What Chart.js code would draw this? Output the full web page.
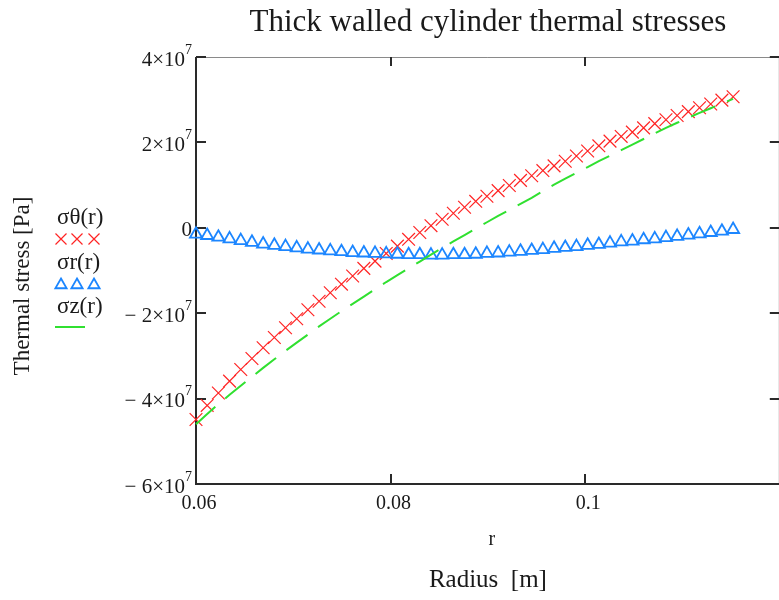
<!DOCTYPE html>
<html>
<head>
<meta charset="utf-8">
<title>Thick walled cylinder thermal stresses</title>
<script src="https://cdn.jsdelivr.net/npm/chart.js@4.4.0/dist/chart.umd.min.js"></script>
<style>
  html, body { margin: 0; padding: 0; background: #fff; overflow: hidden; }
  #wrap { position: relative; width: 790px; height: 600px; }
</style>
</head>
<body>
<div id="wrap"><canvas id="stress" width="790" height="600"></canvas></div>
<script>
// radius r [m]
var radius = [
  0.06000, 0.06115, 0.06230, 0.06345, 0.06460, 0.06575, 0.06690, 0.06805, 0.06920, 0.07035,
  0.07150, 0.07265, 0.07380, 0.07495, 0.07610, 0.07725, 0.07840, 0.07955, 0.08070, 0.08185,
  0.08300, 0.08415, 0.08530, 0.08645, 0.08760, 0.08875, 0.08990, 0.09105, 0.09220, 0.09335,
  0.09450, 0.09565, 0.09680, 0.09795, 0.09910, 0.10025, 0.10140, 0.10255, 0.10370, 0.10485,
  0.10600, 0.10715, 0.10830, 0.10945, 0.11060, 0.11175, 0.11290, 0.11405, 0.11520
];

// hoop stress [Pa]
var sigmaTheta = [
  -4.49e7, -4.16e7, -3.87e7, -3.59e7, -3.32e7, -3.06e7, -2.81e7, -2.57e7, -2.34e7, -2.13e7,
  -1.92e7, -1.72e7, -1.52e7, -1.32e7, -1.13e7, -0.95e7, -0.78e7, -0.60e7, -0.43e7, -0.27e7,
  -0.11e7, 0.05e7, 0.20e7, 0.34e7, 0.48e7, 0.62e7, 0.74e7, 0.87e7, 0.99e7, 1.11e7,
  1.22e7, 1.34e7, 1.45e7, 1.56e7, 1.68e7, 1.80e7, 1.92e7, 2.03e7, 2.14e7, 2.24e7,
  2.34e7, 2.44e7, 2.53e7, 2.63e7, 2.72e7, 2.81e7, 2.90e7, 2.99e7, 3.07e7
];

// radial stress [Pa]
var sigmaR = [
  -0.15e7, -0.18e7, -0.22e7, -0.26e7, -0.30e7, -0.34e7, -0.38e7, -0.41e7, -0.44e7, -0.47e7,
  -0.50e7, -0.52e7, -0.54e7, -0.56e7, -0.58e7, -0.59e7, -0.60e7, -0.61e7, -0.62e7, -0.63e7,
  -0.63e7, -0.64e7, -0.64e7, -0.63e7, -0.63e7, -0.62e7, -0.60e7, -0.59e7, -0.57e7, -0.55e7,
  -0.53e7, -0.51e7, -0.48e7, -0.46e7, -0.44e7, -0.41e7, -0.39e7, -0.36e7, -0.33e7, -0.31e7,
  -0.28e7, -0.26e7, -0.23e7, -0.20e7, -0.17e7, -0.14e7, -0.11e7, -0.08e7, -0.04e7
];

// axial stress [Pa]
var sigmaZ = [
  -4.60e7, -4.36e7, -4.13e7, -3.91e7, -3.70e7, -3.49e7, -3.28e7, -3.08e7, -2.88e7, -2.69e7,
  -2.50e7, -2.31e7, -2.13e7, -1.95e7, -1.78e7, -1.61e7, -1.44e7, -1.27e7, -1.11e7, -0.95e7,
  -0.79e7, -0.63e7, -0.47e7, -0.32e7, -0.17e7, -0.02e7, 0.13e7, 0.28e7, 0.42e7, 0.56e7,
  0.70e7, 0.86e7, 1.01e7, 1.15e7, 1.29e7, 1.42e7, 1.56e7, 1.69e7, 1.82e7, 1.95e7,
  2.08e7, 2.21e7, 2.34e7, 2.46e7, 2.58e7, 2.69e7, 2.80e7, 2.91e7, 3.02e7
];

var xTicks = [0.06, 0.08, 0.1];
var xTickLabels = ['0.06', '0.08', '0.1'];
var yTicks = [4e7, 2e7, 0, -2e7, -4e7, -6e7];
var yTickLabels = ['4\u00d710^7', '2\u00d710^7', '0', '\u2212 2\u00d710^7', '\u2212 4\u00d710^7', '\u2212 6\u00d710^7'];

var legendNames = ['\u03c3\u03b8(r)', '\u03c3r(r)', '\u03c3z(r)'];

var RED = '#ff2424';
var BLUE = '#1c86ff';
var GREEN = '#30e030';
var INK = '#1a1a1a';
var serif = '"Liberation Serif", "Times New Roman", serif';

function pts(ys) {
  return radius.map(function (r, i) { return { x: r, y: ys[i] }; });
}

function drawCross(ctx, x, y, h) {
  ctx.beginPath();
  ctx.moveTo(x - h, y - h); ctx.lineTo(x + h, y + h);
  ctx.moveTo(x - h, y + h); ctx.lineTo(x + h, y - h);
  ctx.stroke();
}

function drawTri(ctx, x, y, r) {
  ctx.beginPath();
  ctx.moveTo(x, y - r);
  ctx.lineTo(x + r * 0.866, y + r / 2);
  ctx.lineTo(x - r * 0.866, y + r / 2);
  ctx.closePath();
  ctx.stroke();
}

// box, inward ticks, tick labels, axis texts and the side legend
var decor = {
  id: 'decor',
  beforeDatasetsDraw: function (chart) {
    var ctx = chart.ctx;
    var a = chart.chartArea;
    var xs = chart.scales.x, ys = chart.scales.y;
    ctx.save();

    // frame
    ctx.lineWidth = 1;
    ctx.strokeStyle = '#8a8a8a';
    ctx.beginPath();
    ctx.moveTo(a.left, a.top + 0.5); ctx.lineTo(a.right, a.top + 0.5);
    ctx.moveTo(a.right - 0.5, a.top); ctx.lineTo(a.right - 0.5, a.bottom);
    ctx.stroke();
    ctx.lineWidth = 2;
    ctx.strokeStyle = '#2a2a2a';
    ctx.beginPath();
    ctx.moveTo(a.left, a.top); ctx.lineTo(a.left, a.bottom);
    ctx.lineTo(a.right, a.bottom);
    ctx.stroke();

    // inward ticks
    ctx.lineWidth = 2;
    ctx.beginPath();
    yTicks.forEach(function (v) {
      var y = Math.round(ys.getPixelForValue(v));
      ctx.moveTo(a.left, y); ctx.lineTo(a.left + 10, y);
      ctx.moveTo(a.right, y); ctx.lineTo(a.right - 10, y);
    });
    xTicks.forEach(function (v) {
      var x = Math.round(xs.getPixelForValue(v));
      ctx.moveTo(x, a.bottom); ctx.lineTo(x, a.bottom - 10);
      ctx.moveTo(x, a.top); ctx.lineTo(x, a.top + 9);
    });
    ctx.stroke();

    ctx.fillStyle = INK;

    // y tick labels with superscript exponent
    ctx.textBaseline = 'middle';
    ctx.textAlign = 'left';
    yTicks.forEach(function (v, i) {
      var y = ys.getPixelForValue(v);
      var parts = yTickLabels[i].split('^');
      ctx.font = '14px ' + serif;
      var supW = parts[1] ? ctx.measureText(parts[1]).width : 0;
      ctx.font = '21px ' + serif;
      var baseW = ctx.measureText(parts[0]).width;
      var right = a.left - 4;
      ctx.fillText(parts[0], right - supW - baseW, y + 3);
      if (parts[1]) {
        ctx.font = '14px ' + serif;
        ctx.fillText(parts[1], right - supW, y - 7);
      }
    });

    // x tick labels
    ctx.font = '20px ' + serif;
    ctx.textAlign = 'center';
    xTicks.forEach(function (v, i) {
      ctx.fillText(xTickLabels[i], xs.getPixelForValue(v) + 3, a.bottom + 20);
    });

    var cx = (a.left + a.right) / 2;
    ctx.font = '31px ' + serif;
    ctx.fillText('Thick walled cylinder thermal stresses', cx, 23);
    ctx.font = '20px ' + serif;
    ctx.fillText('r', cx + 4, 540);
    ctx.font = '25px ' + serif;
    ctx.fillText('Radius  [m]', cx, 580);

    ctx.save();
    ctx.translate(23, 286);
    ctx.rotate(-Math.PI / 2);
    ctx.font = '23px ' + serif;
    ctx.fillText('Thermal stress [Pa]', 0, 0);
    ctx.restore();

    // side legend
    ctx.textAlign = 'left';
    ctx.font = '23px ' + serif;
    ctx.fillText(legendNames[0], 57, 218);
    ctx.fillText(legendNames[1], 57, 263);
    ctx.fillText(legendNames[2], 57, 307);

    ctx.lineWidth = 1.2;
    ctx.strokeStyle = RED;
    [61, 77, 94].forEach(function (x) { drawCross(ctx, x, 239, 5.5); });
    ctx.lineWidth = 1.8;
    ctx.strokeStyle = BLUE;
    [61, 77, 94].forEach(function (x) { drawTri(ctx, x, 285, 6.5); });
    ctx.lineWidth = 2;
    ctx.strokeStyle = GREEN;
    ctx.beginPath();
    ctx.moveTo(55, 327); ctx.lineTo(85, 327);
    ctx.stroke();

    ctx.restore();
  }
};

new Chart(document.getElementById('stress'), {
  type: 'scatter',
  data: {
    datasets: [{
      label: legendNames[0],
      data: pts(sigmaTheta),
      showLine: false,
      pointStyle: 'crossRot',
      pointRadius: 9,
      pointBorderWidth: 1.2,
      borderColor: RED,
      backgroundColor: RED,
      clip: false,
      order: 2
    }, {
      label: legendNames[1],
      data: pts(sigmaR),
      showLine: false,
      pointStyle: 'triangle',
      pointRadius: 7,
      pointBorderWidth: 1.8,
      borderColor: BLUE,
      backgroundColor: 'rgba(0,0,0,0)',
      clip: false,
      order: 1
    }, {
      label: legendNames[2],
      data: pts(sigmaZ),
      showLine: true,
      borderDash: [26, 13],
      borderWidth: 2,
      borderColor: GREEN,
      pointRadius: 0,
      tension: 0,
      clip: false,
      order: 0
    }]
  },
  options: {
    responsive: false,
    animation: false,
    devicePixelRatio: 1,
    layout: { padding: { top: 57, left: 0, right: 6, bottom: 0 } },
    plugins: { legend: { display: false }, title: { display: false }, tooltip: { enabled: false } },
    scales: {
      x: {
        type: 'linear', min: 0.06, max: 0.12,
        grid: { display: false }, border: { display: false },
        ticks: { display: false },
        afterFit: function (s) { s.height = 116; }
      },
      y: {
        type: 'linear', min: -6e7, max: 4e7,
        grid: { display: false }, border: { display: false },
        ticks: { display: false },
        afterFit: function (s) { s.width = 196; }
      }
    }
  },
  plugins: [decor]
});
</script>
</body>
</html>
